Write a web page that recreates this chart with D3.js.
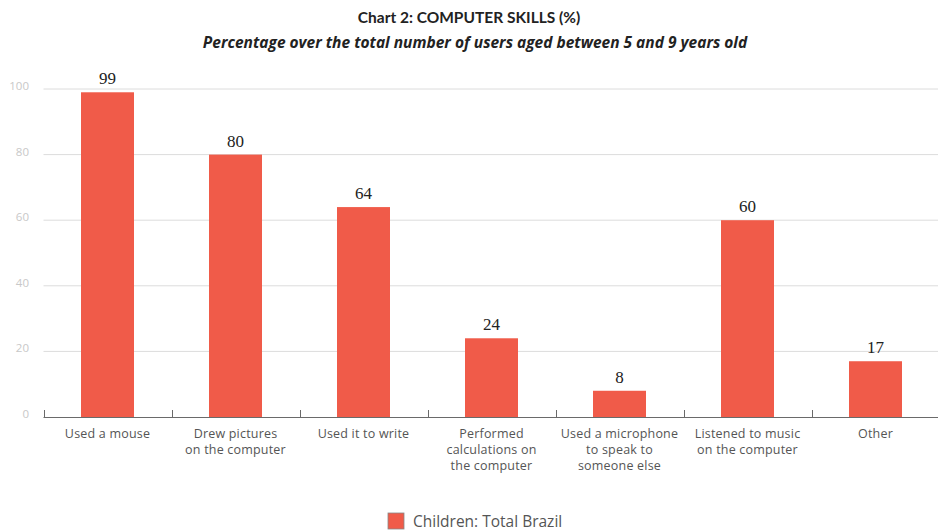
<!DOCTYPE html>
<html>
<head>
<meta charset="utf-8">
<script src="https://cdn.jsdelivr.net/npm/d3@7"></script>
<style>
  html, body { margin: 0; padding: 0; background: #fff; }
  svg { display: block; }
</style>
</head>
<body>
<svg id="chart" width="938" height="531"></svg>
<script>
// Computer skills of children aged 5 to 9 (%)
const categories = [
  ["Used a mouse"],
  ["Drew pictures", "on the computer"],
  ["Used it to write"],
  ["Performed", "calculations on", "the computer"],
  ["Used a microphone", "to speak to", "someone else"],
  ["Listened to music", "on the computer"],
  ["Other"]
];
const values = [99, 80, 64, 24, 8, 60, 17];
const yTicks = [0, 20, 40, 60, 80, 100];
const seriesName = "Children: Total Brazil";
const barColor = "#F05B49";

const svg = d3.select("#chart");
const W = 938, H = 531;
const plotLeft = 43.5, plotRight = 939.5, plotTop = 89, plotBottom = 417;

const x = d3.scaleBand()
  .domain(d3.range(values.length))
  .range([plotLeft, plotRight])
  .paddingInner(0.586)
  .paddingOuter(0.293);
const y = d3.scaleLinear().domain([0, 100]).range([plotBottom, plotTop]);

// Titles
svg.append("text")
  .attr("x", 469).attr("y", 23)
  .attr("text-anchor", "middle")
  .attr("font-family", "Lato, 'Open Sans', sans-serif")
  .attr("font-weight", "bold")
  .attr("font-size", 15.5)
  .attr("fill", "#222")
  .text("Chart 2: COMPUTER SKILLS (%)");
svg.append("text")
  .attr("x", 475).attr("y", 48)
  .attr("text-anchor", "middle")
  .attr("font-family", "'Open Sans', Lato, sans-serif")
  .attr("font-weight", "bold")
  .attr("font-style", "italic")
  .attr("font-size", 15.5)
  .attr("fill", "#222")
  .text("Percentage over the total number of users aged between 5 and 9 years old");

// Horizontal gridlines
svg.append("g")
  .selectAll("line")
  .data(yTicks.filter(d => d > 0))
  .join("line")
  .attr("x1", plotLeft).attr("x2", W)
  .attr("y1", d => y(d)).attr("y2", d => y(d))
  .attr("stroke", "#dcdcdc").attr("stroke-width", 1);

// Y axis labels
svg.append("g")
  .selectAll("text")
  .data(yTicks)
  .join("text")
  .attr("x", 29)
  .attr("y", d => y(d) - 2)
  .attr("text-anchor", "end")
  .attr("dominant-baseline", "middle")
  .attr("font-family", "'Open Sans', sans-serif")
  .attr("font-size", 11.5)
  .attr("fill", "#c8c8c8")
  .text(d => d);

// Bars
svg.append("g")
  .selectAll("rect")
  .data(values)
  .join("rect")
  .attr("x", (d, i) => x(i))
  .attr("width", x.bandwidth())
  .attr("y", d => y(d))
  .attr("height", d => plotBottom - y(d))
  .attr("fill", barColor);

// Value labels
svg.append("g")
  .selectAll("text")
  .data(values)
  .join("text")
  .attr("x", (d, i) => x(i) + x.bandwidth() / 2)
  .attr("y", d => y(d) - 8)
  .attr("text-anchor", "middle")
  .attr("font-family", "'Liberation Serif', 'DejaVu Serif', serif")
  .attr("font-size", 17)
  .attr("fill", "#222")
  .text(d => d);

// X axis line and ticks
const axis = svg.append("g");
axis.append("line")
  .attr("x1", plotLeft).attr("x2", W)
  .attr("y1", plotBottom + 0.5).attr("y2", plotBottom + 0.5)
  .attr("stroke", "#6a6a6a").attr("stroke-width", 1.2);
const step = x.step();
axis.selectAll("line.tick")
  .data(d3.range(values.length))
  .join("line")
  .attr("class", "tick")
  .attr("x1", i => Math.round(x(i) - x.paddingOuter() * step) + 0.5)
  .attr("x2", i => Math.round(x(i) - x.paddingOuter() * step) + 0.5)
  .attr("y1", plotBottom - 7).attr("y2", plotBottom)
  .attr("stroke", "#6a6a6a").attr("stroke-width", 1);

// Category labels
const catG = svg.append("g");
categories.forEach((lines, i) => {
  const t = catG.append("text")
    .attr("text-anchor", "middle")
    .attr("font-family", "'Open Sans', sans-serif")
    .attr("font-size", 12.5)
    .attr("letter-spacing", 0.2)
    .attr("fill", "#555");
  lines.forEach((ln, k) => {
    t.append("tspan")
      .attr("x", x(i) + x.bandwidth() / 2)
      .attr("y", 438 + k * 16)
      .text(ln);
  });
});

// Legend
svg.append("rect")
  .attr("x", 388).attr("y", 513)
  .attr("width", 16).attr("height", 16)
  .attr("fill", barColor)
  .attr("stroke", "#888").attr("stroke-width", 0.8);
svg.append("text")
  .attr("x", 413).attr("y", 527)
  .attr("font-family", "'Open Sans', Lato, sans-serif")
  .attr("font-size", 15.5)
  .attr("fill", "#555")
  .text(seriesName);
</script>
</body>
</html>
